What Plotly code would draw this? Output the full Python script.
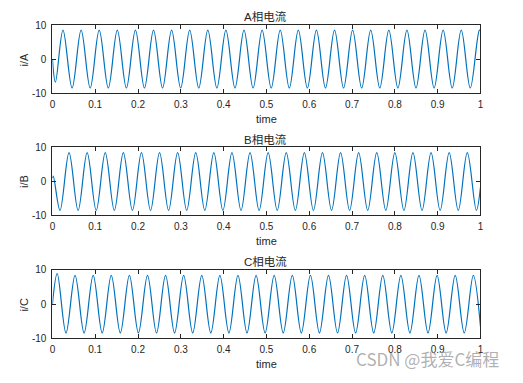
import plotly.graph_objects as go

# ---- data (extrema and end points, seconds / amperes) ----
A_t = [0, 0.007, 0.0247, 0.0459, 0.0670, 0.0882, 0.1093, 0.1305, 0.1516, 0.1728,
       0.1939, 0.2150, 0.2362, 0.2573, 0.2784, 0.2996, 0.3207, 0.3419, 0.3630, 0.3842,
       0.4053, 0.4265, 0.4476, 0.4688, 0.4899, 0.5111, 0.5322, 0.5534, 0.5745, 0.5956,
       0.6168, 0.6379, 0.6591, 0.6802, 0.7013, 0.7225, 0.7436, 0.7648, 0.7859, 0.8071,
       0.8282, 0.8494, 0.8705, 0.8917, 0.9128, 0.9340, 0.9551, 0.9762, 0.9974, 1.0]
A_i = [0, -6.8, 8.5, -8.5, 8.5, -8.5, 8.5, -8.5, 8.5, -8.5,
       8.5, -8.5, 8.5, -8.5, 8.5, -8.5, 8.5, -8.5, 8.5, -8.5,
       8.5, -8.5, 8.5, -8.5, 8.5, -8.5, 8.5, -8.5, 8.5, -8.5,
       8.5, -8.5, 8.5, -8.5, 8.5, -8.5, 8.5, -8.5, 8.5, -8.5,
       8.5, -8.5, 8.5, -8.5, 8.5, -8.5, 8.5, -8.5, 8.5, 8.45]

B_t = [0, 0.002, 0.0177, 0.0388, 0.0600, 0.0811, 0.1023, 0.1234, 0.1446, 0.1657,
       0.1869, 0.2080, 0.2292, 0.2503, 0.2714, 0.2925, 0.3137, 0.3348, 0.3560, 0.3771,
       0.3983, 0.4194, 0.4406, 0.4617, 0.4829, 0.5040, 0.5252, 0.5463, 0.5675, 0.5886,
       0.6098, 0.6309, 0.6521, 0.6732, 0.6943, 0.7154, 0.7366, 0.7577, 0.7789, 0.8000,
       0.8212, 0.8423, 0.8635, 0.8846, 0.9058, 0.9269, 0.9481, 0.9692, 0.9904, 1.0]
B_i = [1.0, 1.6, -8.5, 8.5, -8.5, 8.5, -8.5, 8.5, -8.5, 8.5,
       -8.5, 8.5, -8.5, 8.5, -8.5, 8.5, -8.5, 8.5, -8.5, 8.5,
       -8.5, 8.5, -8.5, 8.5, -8.5, 8.5, -8.5, 8.5, -8.5, 8.5,
       -8.5, 8.5, -8.5, 8.5, -8.5, 8.5, -8.5, 8.5, -8.5, 8.5,
       -8.5, 8.5, -8.5, 8.5, -8.5, 8.5, -8.5, 8.5, -8.5, -1.7]

C_t = [0, 0.0112, 0.0317, 0.0529, 0.0740, 0.0952, 0.1163, 0.1375, 0.1586, 0.1798,
       0.2009, 0.2221, 0.2432, 0.2643, 0.2854, 0.3066, 0.3277, 0.3489, 0.3700, 0.3912,
       0.4123, 0.4335, 0.4546, 0.4758, 0.4969, 0.5181, 0.5392, 0.5604, 0.5815, 0.6027,
       0.6238, 0.6450, 0.6661, 0.6872, 0.7083, 0.7295, 0.7506, 0.7718, 0.7929, 0.8141,
       0.8352, 0.8564, 0.8775, 0.8987, 0.9198, 0.9410, 0.9621, 0.9833, 1.0]
C_i = [0, 8.9, -8.4, 8.4, -8.4, 8.4, -8.4, 8.4, -8.4, 8.4,
       -8.4, 8.4, -8.4, 8.4, -8.4, 8.4, -8.4, 8.4, -8.4, 8.4,
       -8.4, 8.4, -8.4, 8.4, -8.4, 8.4, -8.4, 8.4, -8.4, 8.4,
       -8.4, 8.4, -8.4, 8.4, -8.4, 8.4, -8.4, 8.4, -8.4, 8.4,
       -8.4, 8.4, -8.4, 8.4, -8.4, 8.4, -8.4, 8.4, -6.5]

titles = ["A相电流", "B相电流", "C相电流"]
ylabels = ["i/A", "i/B", "i/C"]
xlabel = "time"
x_ticks = [0, 0.1, 0.2, 0.3, 0.4, 0.5, 0.6, 0.7, 0.8, 0.9, 1]
x_ticktext = ["0", "0.1", "0.2", "0.3", "0.4", "0.5", "0.6", "0.7", "0.8", "0.9", "1"]
y_ticks = [-10, 0, 10]
y_ticktext = ["-10", "0", "10"]
watermark = "CSDN @我爱C编程"

# ---- layout geometry (pixels) ----
W, H = 523, 383
ax_left, ax_right = 50, 483
rows = [(20.7, 90.7), (146.7, 216.7), (272.7, 343.3)]  # top, bottom of each axes
FONT = "Liberation Sans, Arial, Noto Sans CJK SC, sans-serif"
TFONT = "Liberation Sans, Noto Sans CJK SC, sans-serif"
AXC = "#262626"
LINEC = "#0072BD"

fig = go.Figure()
series = [(A_t, A_i), (B_t, B_i), (C_t, C_i)]
for k, (t, v) in enumerate(series):
    sfx = "" if k == 0 else str(k + 1)
    fig.add_trace(go.Scatter(x=t, y=v, mode="lines",
                             line=dict(color=LINEC, width=1.2, shape="spline", smoothing=1),
                             xaxis="x" + sfx, yaxis="y" + sfx, showlegend=False,
                             hoverinfo="skip"))

layout = dict(width=W, height=H, margin=dict(l=0, r=0, t=0, b=0),
              paper_bgcolor="white", plot_bgcolor="white",
              font=dict(family=FONT, size=10, color=AXC), showlegend=False)

annotations = []
for k, (top, bot) in enumerate(rows):
    sfx = "" if k == 0 else str(k + 1)
    common = dict(showline=True, linecolor=AXC, linewidth=1, mirror="ticks",
                  ticks="inside", ticklen=4, tickcolor=AXC, tickwidth=1,
                  showgrid=False, zeroline=False, tickfont=dict(size=10, color=AXC, family=FONT))
    layout["xaxis" + sfx] = dict(domain=[ax_left / W, ax_right / W], range=[0, 1],
                                 tickvals=x_ticks, ticktext=x_ticktext,
                                 ticklabelstandoff=2,
                                 anchor="y" + sfx, **common)
    layout["yaxis" + sfx] = dict(domain=[1 - bot / H, 1 - top / H], range=[-10, 10],
                                 tickvals=y_ticks, ticktext=y_ticktext,
                                 ticklabelstandoff=3,
                                 anchor="x" + sfx, **common)
    cx = 265.8 / W
    annotations.append(dict(text=titles[k], x=cx, y=1 - (top - 8.7) / H, xref="paper", yref="paper",
                            showarrow=False, xanchor="center", yanchor="middle",
                            font=dict(size=11.5, color=AXC, family=TFONT, weight=400)))
    annotations.append(dict(text=xlabel, x=(ax_left + ax_right) / 2 / W, y=1 - (bot + 26.5) / H,
                            xref="paper", yref="paper",
                            showarrow=False, xanchor="center", yanchor="middle",
                            font=dict(size=11, color=AXC, family=FONT)))
    annotations.append(dict(text=ylabels[k], x=21.7 / W, y=1 - (top + bot) / 2 / H,
                            xref="paper", yref="paper", textangle=-90,
                            showarrow=False, xanchor="center", yanchor="middle",
                            font=dict(size=11, color=AXC, family=FONT)))

annotations.append(dict(text=watermark, x=429 / W, y=1 - 364 / H, xref="paper", yref="paper",
                        showarrow=False, xanchor="center", yanchor="middle",
                        font=dict(size=17, color="rgba(150,150,150,0.75)",
                                  family="Noto Sans CJK SC, sans-serif")))
layout["annotations"] = annotations
fig.update_layout(**layout)
fig.write_html("out.html")
